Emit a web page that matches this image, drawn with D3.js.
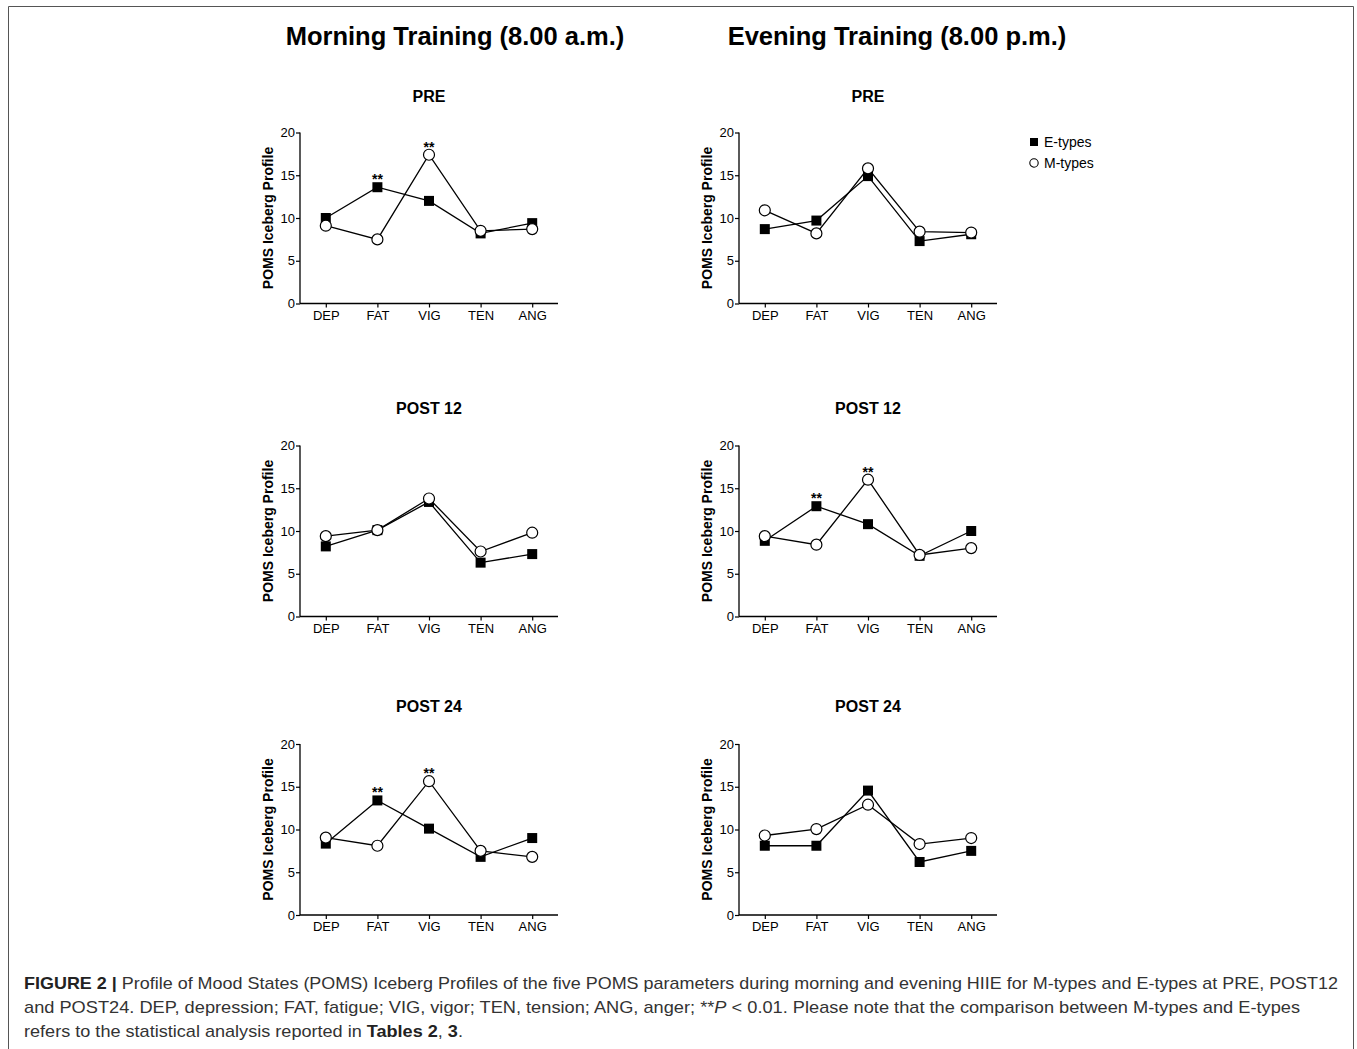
<!DOCTYPE html>
<html><head><meta charset="utf-8">
<script src="https://cdn.jsdelivr.net/npm/d3@7"></script>
<style>body{margin:0;background:#fff}svg{display:block}</style>
</head><body>
<svg id="c" width="1357" height="1049"></svg>
<script>
const categories = ["DEP","FAT","VIG","TEN","ANG"];
const yTicks = [0,5,10,15,20];
const columnTitles = ["Morning Training (8.00 a.m.)","Evening Training (8.00 p.m.)"];
const rowTitles = ["PRE","POST 12","POST 24"];
const seriesNames = ["E-types","M-types"];

const morningPRE_E   = [10.0, 13.6, 12.0, 8.2, 9.4];
const morningPRE_M   = [9.1, 7.5, 17.4, 8.5, 8.7];
const eveningPRE_E   = [8.7, 9.7, 14.9, 7.3, 8.1];
const eveningPRE_M   = [10.9, 8.2, 15.8, 8.4, 8.3];
const morningP12_E   = [8.2, 10.1, 13.4, 6.3, 7.3];
const morningP12_M   = [9.4, 10.1, 13.8, 7.6, 9.8];
const eveningP12_E   = [8.85, 12.9, 10.8, 7.1, 10.0];
const eveningP12_M   = [9.4, 8.4, 16.0, 7.2, 8.0];
const morningP24_E   = [8.35, 13.4, 10.1, 6.8, 9.0];
const morningP24_M   = [9.05, 8.1, 15.65, 7.5, 6.8];
const eveningP24_E   = [8.1, 8.1, 14.55, 6.2, 7.5];
const eveningP24_M   = [9.3, 10.05, 12.9, 8.3, 9.0];

const sigMorningPRE = [[0,"FAT"],[1,"VIG"]];
const sigEveningP12 = [[0,"FAT"],[1,"VIG"]];
const sigMorningP24 = [[0,"FAT"],[1,"VIG"]];

const captionLines = [
 [{t:"FIGURE 2 |",b:true},{t:" Profile of Mood States (POMS) Iceberg Profiles of the five POMS parameters during morning and evening HIIE for M-types and E-types at PRE, POST12"}],
 [{t:"and POST24. DEP, depression; FAT, fatigue; VIG, vigor; TEN, tension; ANG, anger; **"},{t:"P",i:true},{t:" < 0.01. Please note that the comparison between M-types and E-types"}],
 [{t:"refers to the statistical analysis reported in "},{t:"Tables 2",b:true},{t:", "},{t:"3",b:true},{t:"."}]
];

const panels = [
  {col:0,row:0,E:morningPRE_E,M:morningPRE_M,sig:sigMorningPRE},
  {col:1,row:0,E:eveningPRE_E,M:eveningPRE_M,sig:[]},
  {col:0,row:1,E:morningP12_E,M:morningP12_M,sig:[]},
  {col:1,row:1,E:eveningP12_E,M:eveningP12_M,sig:sigEveningP12},
  {col:0,row:2,E:morningP24_E,M:morningP24_M,sig:sigMorningP24},
  {col:1,row:2,E:eveningP24_E,M:eveningP24_M,sig:[]}
];

const svg = d3.select("#c");
const font = "Liberation Sans, Arial, Helvetica, sans-serif";

svg.append("path").attr("d","M8.5,1049 V6.5 H1353.5 V1049").attr("fill","none").attr("stroke","#555").attr("stroke-width",1);

const colX = [300, 739];
const colCenter = [455, 897];
const rowBottom = [303.5, 616.5, 915];
const rowTitleY = [102, 414, 712];
const plotH = 171, plotW = 258;

columnTitles.forEach((t,i)=>{
  svg.append("text").attr("x",colCenter[i]).attr("y",45).attr("text-anchor","middle")
    .attr("font-family",font).attr("font-weight","bold").attr("font-size",25.5).text(t);
});

panels.forEach(p=>{
  const x0 = colX[p.col], y0 = rowBottom[p.row];
  const g = svg.append("g").attr("transform",`translate(${x0},${y0-plotH})`);
  const x = d3.scalePoint().domain(categories).range([0,plotW]).padding(0.5);
  const y = d3.scaleLinear().domain([0,20]).range([plotH,0]);

  svg.append("text").attr("x",x0+x("VIG")).attr("y",rowTitleY[p.row]).attr("text-anchor","middle")
    .attr("font-family",font).attr("font-weight","bold").attr("font-size",16).text(rowTitles[p.row]);

  const ya = g.append("g").call(d3.axisLeft(y).tickValues(yTicks).tickSize(4).tickPadding(1));
  const xa = g.append("g").attr("transform",`translate(0,${plotH})`).call(d3.axisBottom(x).tickSize(4).tickPadding(3));
  [ya,xa].forEach(a=>{
    a.select(".domain").attr("stroke","#000").attr("stroke-width",1.3);
    a.selectAll(".tick line").attr("stroke","#000").attr("stroke-width",1.2);
    a.selectAll("text").attr("font-family",font).attr("font-size",13).attr("fill","#000");
  });
  ya.select(".domain").attr("d",`M0,0V${plotH}`);
  xa.select(".domain").attr("d",`M0,0H${plotW}`);

  g.append("text").attr("transform",`translate(-27,${plotH/2}) rotate(-90)`).attr("text-anchor","middle")
    .attr("font-family",font).attr("font-weight","bold").attr("font-size",14).text("POMS Iceberg Profile");

  const line = d3.line().x((d,i)=>x(categories[i])).y(d=>y(d));
  [p.E,p.M].forEach(s=>{
    g.append("path").datum(s).attr("d",line).attr("fill","none").attr("stroke","#000").attr("stroke-width",1.3);
  });
  g.selectAll(".sq").data(p.E).enter().append("rect")
    .attr("x",(d,i)=>x(categories[i])-5).attr("y",d=>y(d)-5).attr("width",10).attr("height",10).attr("fill","#000");
  g.selectAll(".ci").data(p.M).enter().append("circle")
    .attr("cx",(d,i)=>x(categories[i])).attr("cy",d=>y(d)).attr("r",5.5)
    .attr("fill","#fff").attr("stroke","#000").attr("stroke-width",1.2);

  p.sig.forEach(([si,cat])=>{
    const v = (si===0?p.E:p.M)[categories.indexOf(cat)];
    g.append("text").attr("x",x(cat)).attr("y",y(v)-3).attr("text-anchor","middle")
      .attr("font-family",font).attr("font-weight","bold").attr("font-size",14).text("**");
  });
});

const lg = svg.append("g").attr("transform","translate(1030,0)");
lg.append("rect").attr("x",0).attr("y",138).attr("width",8).attr("height",8).attr("fill","#000");
lg.append("circle").attr("cx",4).attr("cy",163).attr("r",4.2).attr("fill","#fff").attr("stroke","#000").attr("stroke-width",1.1);
seriesNames.forEach((n,i)=>{
  lg.append("text").attr("x",14).attr("y",147+i*21).attr("font-family",font).attr("font-size",14).text(n);
});

const capFont = "Liberation Sans Narrow, Arial Narrow, Liberation Sans, sans-serif";
const capY = [989, 1013, 1037];
const capLen = [1314, 1276, 439];
captionLines.forEach((parts,i)=>{
  const t = svg.append("text").attr("x",24).attr("y",capY[i]).attr("font-family",capFont).attr("font-size",17).attr("fill","#333");
  if (capLen[i]) t.attr("textLength",capLen[i]).attr("lengthAdjust","spacingAndGlyphs");
  parts.forEach(pt=>{
    const ts = t.append("tspan").text(pt.t);
    if (pt.b) ts.attr("font-weight","bold").attr("fill","#222");
    if (pt.i) ts.attr("font-style","italic");
  });
});
</script>
</body></html>
